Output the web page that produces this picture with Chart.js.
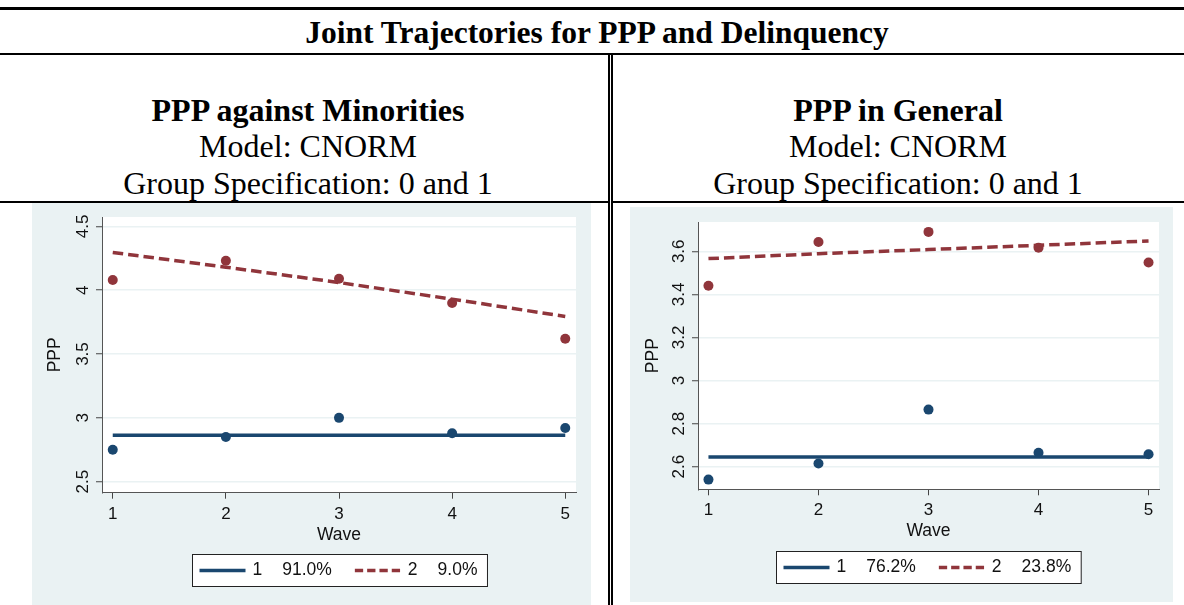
<!DOCTYPE html>
<html>
<head>
<meta charset="utf-8">
<script src="https://cdn.jsdelivr.net/npm/chart.js@4.4.0/dist/chart.umd.min.js"></script>
<style>
  html, body { margin: 0; padding: 0; background: #fff; }
  body { width: 1184px; height: 605px; position: relative; overflow: hidden;
         font-family: "Liberation Serif", "Times New Roman", serif; color: #000; }
  .rule { position: absolute; background: #000; }
  .hd { position: absolute; white-space: nowrap; transform: translateX(-50%);
        font-size: 32px; line-height: 32px; height: 32px; }
  .panel { position: absolute; background: #eaf2f3; }
  .panel canvas { display: block; }
</style>
</head>
<body>
<!-- table rules -->
<div class="rule" style="left:0;top:7px;width:1184px;height:3px"></div>
<div class="rule" style="left:0;top:53px;width:1184px;height:2px"></div>
<div class="rule" style="left:608px;top:55px;width:2px;height:550px"></div>
<div class="rule" style="left:611px;top:55px;width:2px;height:550px"></div>
<div class="rule" style="left:0;top:200.5px;width:608px;height:2px"></div>
<div class="rule" style="left:613px;top:200.5px;width:571px;height:2px"></div>

<!-- headers -->
<div class="hd" style="left:597px;top:16.5px;font-size:31.5px;font-weight:bold">Joint Trajectories for PPP and Delinquency</div>
<div class="hd" style="left:308px;top:94px;font-weight:bold">PPP against Minorities</div>
<div class="hd" style="left:308px;top:130px">Model: CNORM</div>
<div class="hd" style="left:308px;top:167px">Group Specification: 0 and 1</div>
<div class="hd" style="left:898px;top:94px;font-weight:bold">PPP in General</div>
<div class="hd" style="left:898px;top:130px">Model: CNORM</div>
<div class="hd" style="left:898px;top:167px">Group Specification: 0 and 1</div>

<div class="panel" style="left:32px;top:203px;width:559px;height:402px">
  <canvas id="chartMin" width="559" height="402"></canvas>
</div>
<div class="panel" style="left:630px;top:207px;width:543px;height:395px">
  <canvas id="chartGen" width="543" height="395"></canvas>
</div>

<script>
// shared x axis
const waves = [1, 2, 3, 4, 5];

// PPP against Minorities
const minObserved1 = [2.75, 2.85, 3.00, 2.88, 2.92];
const minObserved2 = [4.08, 4.23, 4.09, 3.90, 3.62];
const minFitted1 = [2.864, 2.864, 2.864, 2.864, 2.864];
const minFitted2 = [4.295, 4.18, 4.06, 3.93, 3.794];
const minYTicks = [2.5, 3, 3.5, 4, 4.5];
const minShares = ["91.0%", "9.0%"];

// PPP in General
const genObserved1 = [2.54, 2.615, 2.865, 2.665, 2.658];
const genObserved2 = [3.44, 3.643, 3.69, 3.617, 3.548];
const genFitted1 = [2.645, 2.645, 2.645, 2.645, 2.645];
const genFitted2 = [3.566, 3.589, 3.608, 3.628, 3.648];
const genYTicks = [2.6, 2.8, 3, 3.2, 3.4, 3.6];
const genShares = ["76.2%", "23.8%"];

const groups = ["1", "2"];

const NAVY = "#1a476f";
const MAROON = "#90353b";
const SANS = '"Liberation Sans", Arial, sans-serif';

Chart.defaults.font.family = SANS;
Chart.defaults.color = "#111";

function pts(values) {
  return waves.map((w, i) => ({ x: w, y: values[i] }));
}

// white plot region like stata
const plotBg = {
  id: "plotBg",
  beforeDraw(chart) {
    const a = chart.chartArea;
    chart.ctx.save();
    chart.ctx.fillStyle = "#fff";
    chart.ctx.fillRect(a.left, a.top, a.right - a.left, a.bottom - a.top);
    chart.ctx.restore();
  }
};

// boxed legend under the plot, centred on the plot region
const stataLegend = {
  id: "stataLegend",
  afterDraw(chart, args, opts) {
    const ctx = chart.ctx;
    const a = chart.chartArea;
    const keyW = 46, keyGap = 7, numGap = 20, itemGap = 23, padL = 7, padR = 10, h = 32;
    ctx.save();
    ctx.font = "17.5px " + SANS;
    let w = padL + padR;
    opts.items.forEach((it, i) => {
      w += keyW + keyGap + ctx.measureText(it.label).width + numGap + ctx.measureText(it.share).width;
      if (i) w += itemGap;
    });
    const left = Math.round((a.left + a.right) / 2 - w / 2) + 0.5;
    const top = Math.round(a.bottom + opts.offset) + 0.5;
    ctx.fillStyle = "#fff";
    ctx.fillRect(left, top, w, h);
    ctx.strokeStyle = "#222";
    ctx.lineWidth = 1;
    ctx.strokeRect(left, top, w, h);

    const cy = top + h / 2;
    let x = left + padL;
    opts.items.forEach((it, i) => {
      if (i) x += itemGap;
      ctx.beginPath();
      ctx.setLineDash(it.dash);
      ctx.strokeStyle = it.color;
      ctx.lineWidth = 3.5;
      ctx.moveTo(x, cy);
      ctx.lineTo(x + keyW, cy);
      ctx.stroke();
      ctx.setLineDash([]);
      x += keyW + keyGap;
      ctx.fillStyle = "#111";
      ctx.textBaseline = "middle";
      ctx.textAlign = "left";
      ctx.fillText(it.label, x, cy);
      x += ctx.measureText(it.label).width + numGap;
      ctx.fillText(it.share, x, cy);
      x += ctx.measureText(it.share).width;
    });
    ctx.restore();
  }
};

function drawPanel(id, d) {
  new Chart(document.getElementById(id), {
    type: "line",
    data: {
      datasets: [
        { label: groups[0], data: pts(d.fit1), borderColor: NAVY, borderWidth: 3.5, pointRadius: 0, tension: 0 },
        { label: groups[1], data: pts(d.fit2), borderColor: MAROON, borderWidth: 3.5, borderDash: [10.5, 5], pointRadius: 0, tension: 0 },
        { type: "scatter", data: pts(d.obs1), backgroundColor: NAVY, borderWidth: 0, pointRadius: 5, showLine: false },
        { type: "scatter", data: pts(d.obs2), backgroundColor: MAROON, borderWidth: 0, pointRadius: 5, showLine: false }
      ]
    },
    options: {
      responsive: false,
      animation: false,
      devicePixelRatio: 1,
      layout: { padding: d.pad },
      plugins: {
        legend: { display: false },
        tooltip: { enabled: false },
        stataLegend: {
          offset: 61.5,
          items: [
            { label: groups[0], share: d.shares[0], color: NAVY, dash: [] },
            { label: groups[1], share: d.shares[1], color: MAROON, dash: [8.3, 4] }
          ]
        }
      },
      scales: {
        x: {
          type: "linear",
          min: 0.905,
          max: 5.095,
          afterBuildTicks: s => { s.ticks = waves.map(v => ({ value: v })); },
          afterFit: s => { s.height = 60; s.paddingLeft = 0; s.paddingRight = 0; },
          ticks: { font: { size: 17 }, padding: 5, maxRotation: 0, callback: v => String(v) },
          grid: { drawOnChartArea: false, tickLength: 6, tickColor: "#444", tickWidth: 1 },
          border: { display: true, color: "#555", width: 1 },
          title: { display: true, text: "Wave", font: { size: 17.5 }, color: "#111", padding: { top: 0, bottom: 7.5 } }
        },
        y: {
          type: "linear",
          min: d.yMin,
          max: d.yMax,
          afterBuildTicks: s => { s.ticks = d.yTicks.map(v => ({ value: v })); },
          afterFit: s => { s.width = d.yWidth; s.paddingTop = 0; s.paddingBottom = 0; },
          ticks: { font: { size: 17 }, minRotation: 90, maxRotation: 90, crossAlign: "center", padding: 1, callback: v => String(v) },
          grid: { color: "#eaf2f3", lineWidth: 1.5, tickLength: 6, tickColor: "#444", tickWidth: 1 },
          border: { display: true, color: "#555", width: 1 },
          title: { display: true, text: "PPP", font: { size: 17.5 }, color: "#111", padding: { top: 13, bottom: 0 } }
        }
      }
    },
    plugins: [plotBg, stataLegend]
  });
}

drawPanel("chartMin", {
  obs1: minObserved1, obs2: minObserved2, fit1: minFitted1, fit2: minFitted2,
  yTicks: minYTicks, yMin: 2.414, yMax: 4.573, shares: minShares,
  yWidth: 70, pad: { left: 0, right: 15, top: 14, bottom: 52.3 }
});

drawPanel("chartGen", {
  obs1: genObserved1, obs2: genObserved2, fit1: genFitted1, fit2: genFitted2,
  yTicks: genYTicks, yMin: 2.495, yMax: 3.736, shares: genShares,
  yWidth: 68, pad: { left: 0, right: 14, top: 15, bottom: 52.7 }
});
</script>
</body>
</html>
